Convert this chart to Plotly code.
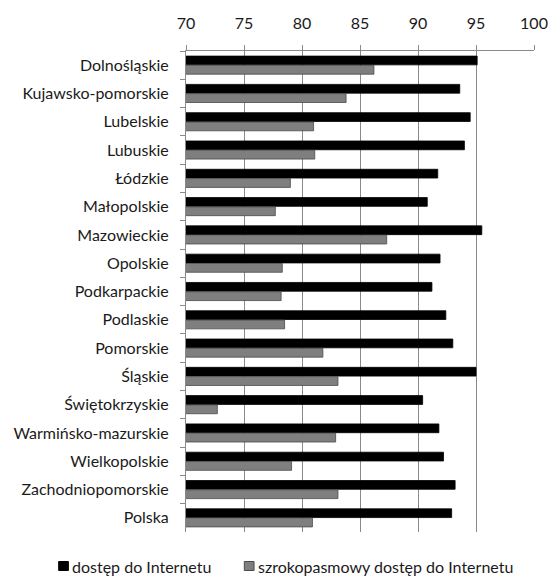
import plotly.graph_objects as go

regions = [
    "Dolnośląskie", "Kujawsko-pomorskie", "Lubelskie", "Lubuskie", "Łódzkie",
    "Małopolskie", "Mazowieckie", "Opolskie", "Podkarpackie", "Podlaskie",
    "Pomorskie", "Śląskie", "Świętokrzyskie", "Warmińsko-mazurskie",
    "Wielkopolskie", "Zachodniopomorskie", "Polska",
]
dostep = [95.1, 93.6, 94.5, 94.0, 91.7, 90.8, 95.5, 91.9, 91.2, 92.4,
          93.0, 95.0, 90.4, 91.8, 92.2, 93.2, 92.9]
szerokopasmowy = [86.2, 83.8, 81.0, 81.1, 79.0, 77.7, 87.3, 78.3, 78.2, 78.5,
                  81.8, 83.1, 72.7, 82.9, 79.1, 83.1, 80.9]
x_ticks = [70, 75, 80, 85, 90, 95, 100]
series_names = ["dostęp do Internetu", "szrokopasmowy dostęp do Internetu"]
series_colors = ["#000000", "#7f7f7f"]
series_edges = ["#000000", "#4a4a4a"]

FONT = "Lato, 'Open Sans', sans-serif"
W, H = 560, 577
M = dict(l=186, r=16, t=51, b=45)
plot_w = W - M["l"] - M["r"]
plot_h = H - M["t"] - M["b"]

fig = go.Figure()
for name, vals, col, edge in zip(series_names, [dostep, szerokopasmowy],
                                 series_colors, series_edges):
    fig.add_trace(go.Bar(
        y=regions, x=vals, orientation="h", name=name,
        marker=dict(color=col, line=dict(color=edge, width=0.8)),
        showlegend=False,
    ))

# Legend below the plot: small square swatch followed by its label
def px_x(px):
    return (px - M["l"]) / plot_w

def px_y(py):
    return (H - M["b"] - py) / plot_h

legend_left = [55, 246]
legend_mid = 566.5
for left, name, col, edge in zip(legend_left, series_names,
                                 series_colors, series_edges):
    fig.add_shape(
        type="rect", xref="paper", yref="paper",
        x0=px_x(left), x1=px_x(left + 10),
        y0=px_y(legend_mid + 4), y1=px_y(legend_mid - 5),
        fillcolor=col, line=dict(color=edge, width=1),
    )
    fig.add_annotation(
        xref="paper", yref="paper", x=px_x(left + 12), y=px_y(legend_mid),
        xanchor="left", yanchor="middle", showarrow=False, text=name,
        font=dict(family=FONT, size=16, color="#1a1a1a"),
    )

fig.update_layout(
    width=W, height=H, margin=M,
    paper_bgcolor="white", plot_bgcolor="white",
    barmode="group", bargap=0.34, bargroupgap=0.06,
    font=dict(family=FONT, size=16, color="#1a1a1a"),
    showlegend=False,
    xaxis=dict(
        side="top", range=[70, 100], tickvals=x_ticks,
        ticktext=[str(v) for v in x_ticks],
        showgrid=True, gridcolor="#8a8a8a", gridwidth=1,
        showline=True, linecolor="#8a8a8a", linewidth=1,
        ticks="outside", ticklen=5, tickcolor="#8a8a8a",
        tickfont=dict(size=16), ticklabelstandoff=10,
        zeroline=False, fixedrange=True,
    ),
    yaxis=dict(
        autorange="reversed", showline=True, linecolor="#8a8a8a", linewidth=1,
        ticks="outside", ticklen=5, tickcolor="#8a8a8a", tickson="boundaries",
        showgrid=False, tickfont=dict(size=16), ticklabelstandoff=13,
        fixedrange=True,
    ),
)

fig.write_html("out.html")
